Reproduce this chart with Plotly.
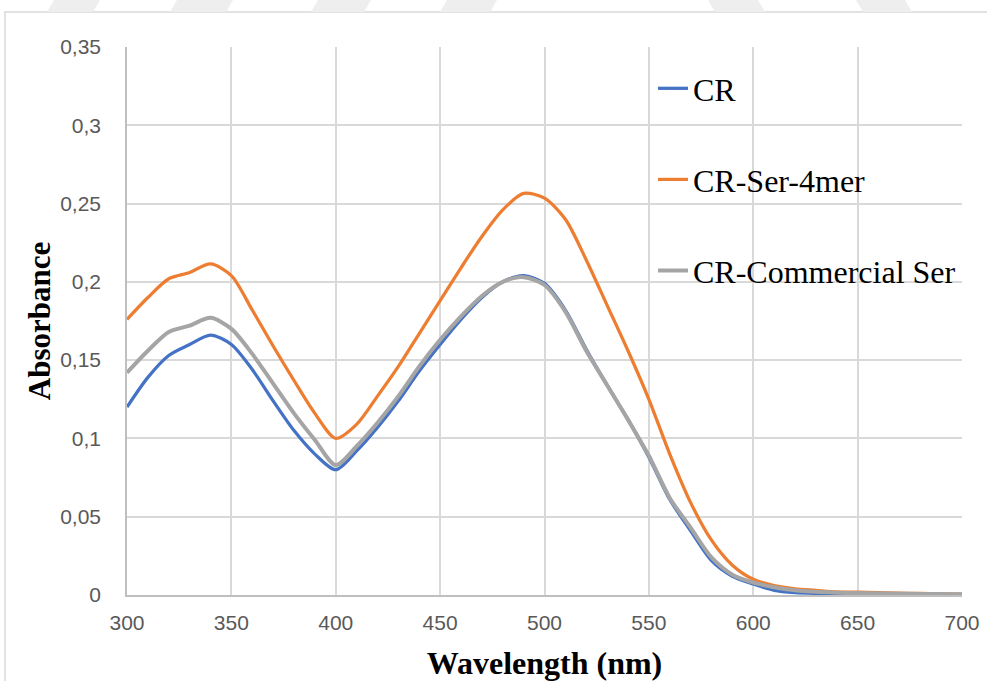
import plotly.graph_objects as go

wavelength = [300, 310, 320, 330, 340, 350, 360, 370, 380, 390,
              400, 410, 420, 430, 440, 450, 460, 470, 480, 490,
              500, 510, 520, 530, 540, 550, 560, 570, 580, 590,
              600, 610, 620, 630, 640, 650, 660, 670, 680, 690, 700]

cr = [0.120, 0.139, 0.153, 0.160, 0.166, 0.160, 0.144, 0.124, 0.105, 0.090,
      0.080, 0.092, 0.107, 0.124, 0.143, 0.160, 0.176, 0.190, 0.200, 0.204,
      0.199, 0.182, 0.157, 0.134, 0.112, 0.088, 0.061, 0.041, 0.022, 0.012,
      0.007, 0.003, 0.0015, 0.001, 0.0008, 0.0005, 0.0004, 0.0003, 0.0003, 0.0002, 0.0002]

cr_ser_4mer = [0.176, 0.190, 0.202, 0.206, 0.2115, 0.204, 0.182, 0.159, 0.137, 0.116,
               0.100, 0.109, 0.127, 0.146, 0.167, 0.188, 0.209, 0.229, 0.246, 0.2565,
               0.2535, 0.240, 0.214, 0.185, 0.156, 0.125, 0.090, 0.059, 0.035, 0.019,
               0.010, 0.006, 0.004, 0.003, 0.002, 0.0018, 0.0015, 0.0012, 0.001, 0.0008, 0.0006]

cr_commercial_ser = [0.142, 0.156, 0.168, 0.172, 0.177, 0.170, 0.154, 0.135, 0.116, 0.099,
                     0.083, 0.095, 0.110, 0.127, 0.146, 0.163, 0.178, 0.191, 0.200, 0.203,
                     0.198, 0.181, 0.156, 0.134, 0.112, 0.089, 0.062, 0.043, 0.024, 0.013,
                     0.008, 0.005, 0.003, 0.002, 0.0015, 0.0012, 0.001, 0.0008, 0.0007, 0.0006, 0.0005]

series_names = ["CR", "CR-Ser-4mer", "CR-Commercial Ser"]
series_colors = ["#4472C4", "#ED7D31", "#A5A5A5"]
series_widths = [3.25, 3.25, 4]

x_tick_vals = [300, 350, 400, 450, 500, 550, 600, 650, 700]
x_tick_text = ["300", "350", "400", "450", "500", "550", "600", "650", "700"]
y_tick_vals = [0, 0.05, 0.1, 0.15, 0.2, 0.25, 0.3, 0.35]
y_tick_text = ["0", "0,05", "0,1", "0,15", "0,2", "0,25", "0,3", "0,35"]

fig = go.Figure()
for i, (name, ys) in enumerate(zip(series_names, [cr, cr_ser_4mer, cr_commercial_ser])):
    fig.add_trace(go.Scatter(
        x=wavelength, y=ys, mode="lines", name=name,
        legendgroup=name,
        line=dict(color=series_colors[i], width=series_widths[i], shape="spline", smoothing=0.8),
    ))

W, H = 987, 681
L, R, T, B = 127, 25, 47, 86
pw, ph = W - L - R, H - T - B

def px(x):
    return (x - L) / pw

def py(y):
    return (H - B - y) / ph

shapes = []
# outer chart border
shapes.append(dict(type="rect", xref="paper", yref="paper",
                   x0=px(5), x1=px(1100), y0=py(12), y1=py(800),
                   line=dict(color="#D9D9D9", width=1.5), fillcolor="rgba(0,0,0,0)", layer="below"))
# faint watermark stripes at top
stripes = [(47, 100, 1), (170, 233, 1), (311, 371, 1), (440, 497, 1), (708, 765, -1), (856, 912, -1)]
for a, b, d in stripes:
    off = 7
    if d == 1:
        path = f"M{px(a)},{py(12)} L{px(b - off)},{py(12)} L{px(b)},{py(0)} L{px(a + off)},{py(0)} Z"
    else:
        path = f"M{px(a + off)},{py(12)} L{px(b)},{py(12)} L{px(b - off)},{py(0)} L{px(a)},{py(0)} Z"
    shapes.append(dict(type="path", xref="paper", yref="paper", path=path,
                       fillcolor="#EEEEEE", line=dict(width=0), layer="below"))

fig.update_layout(
    width=W, height=H,
    margin=dict(l=L, r=R, t=T, b=B, autoexpand=False),
    paper_bgcolor="white", plot_bgcolor="white",
    shapes=shapes,
    showlegend=True,
    legend=dict(
        x=px(653), y=py(61), xanchor="left", yanchor="top",
        font=dict(family="Liberation Serif, Times New Roman, serif", size=32, color="#000000"),
        bgcolor="rgba(0,0,0,0)", tracegroupgap=46.5, itemwidth=30,
    ),
    xaxis=dict(
        range=[300, 700], tickvals=x_tick_vals, ticktext=x_tick_text,
        showgrid=True, gridcolor="#D9D9D9", gridwidth=1.5,
        showline=True, linecolor="#BFBFBF", linewidth=1.5,
        zeroline=False, ticks="", ticklabelstandoff=8, automargin=False,
        tickfont=dict(family="Liberation Sans, Arial, sans-serif", size=21, color="#595959"),
        title=dict(text="<b>Wavelength (nm)</b>", standoff=19,
                   font=dict(family="Liberation Serif, Times New Roman, serif", size=32, color="#000000")),
    ),
    yaxis=dict(
        range=[0, 0.35], tickvals=y_tick_vals, ticktext=y_tick_text,
        showgrid=True, gridcolor="#D9D9D9", gridwidth=1.5,
        showline=True, linecolor="#BFBFBF", linewidth=1.5,
        zeroline=False, ticks="", ticklabelstandoff=20, automargin=False,
        tickfont=dict(family="Liberation Sans, Arial, sans-serif", size=21, color="#595959"),
        title=dict(text="<b>Absorbance</b>", standoff=0,
                   font=dict(family="Liberation Serif, Times New Roman, serif", size=31, color="#000000")),
    ),
)

fig.write_html("out.html", config={"displayModeBar": False},
               post_script="document.body.style.margin='0';")
